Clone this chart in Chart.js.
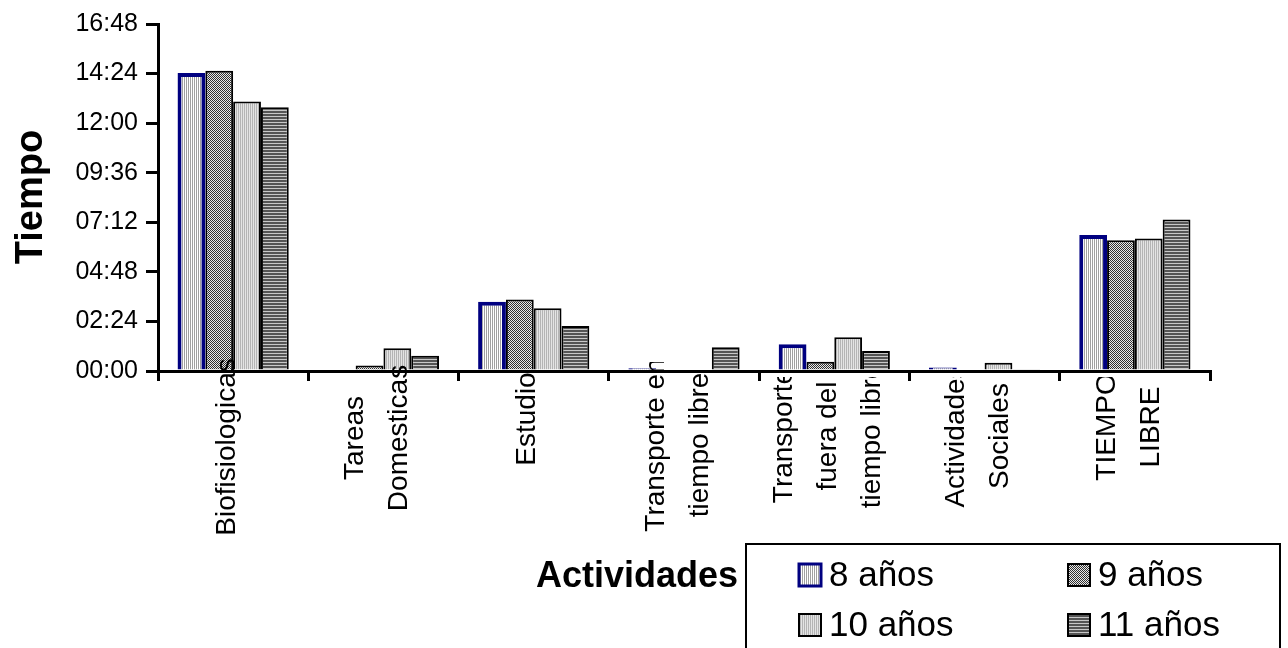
<!DOCTYPE html>
<html>
<head>
<meta charset="utf-8">
<title>Tiempo por actividades</title>
<script src="https://cdn.jsdelivr.net/npm/chart.js@4.4.1/dist/chart.umd.min.js"></script>
<style>
    html, body { margin: 0; padding: 0; background: #fff; }
    #wrap { width: 1288px; height: 648px; }
</style>
</head>
<body>
<div id="wrap"><canvas id="mainChart" width="1288" height="648"></canvas></div>
<script>
// categorias (una linea por elemento)
const categories = [
    ['Biofisiologicas'],
    ['Tareas', 'Domesticas'],
    ['Estudio'],
    ['Transporte en', 'tiempo libre'],
    ['Transporte', 'fuera del', 'tiempo libre'],
    ['Actividades', 'Sociales'],
    ['TIEMPO', 'LIBRE']
];
const seriesNames = ['8 años', '9 años', '10 años', '11 años'];

// valores en minutos
const edad8 = [866, 0, 201, 8, 78, 10, 395];
const edad9 = [872, 16, 208, 0, 27, 0, 380];
const edad10 = [783, 66, 182, 0, 98, 24, 385];
const edad11 = [766, 44, 131, 69, 58, 5, 440];

const yTicks = ['00:00', '02:24', '04:48', '07:12', '09:36', '12:00', '14:24', '16:48'];

const FONT = '"Liberation Sans", Arial, sans-serif';

// Excel centra cada etiqueta a su manera y recorta lo que sobresale
const labelMid = [447, 438, 419, 445, 436, 436, 427];
const labelClip = [357, 357, 357, 362, 377, 377, 377];

function makePattern(w, h, draw) {
    const c = document.createElement('canvas');
    c.width = w;
    c.height = h;
    const g = c.getContext('2d');
    draw(g);
    return g.createPattern(c, 'repeat');
}

// rellenos tipo Excel
const pat8 = makePattern(2, 1, g => {
    g.fillStyle = '#ffffff'; g.fillRect(0, 0, 2, 1);
    g.fillStyle = '#a0a0a0'; g.fillRect(0, 0, 1, 1);
});
const pat9 = makePattern(2, 2, g => {
    g.fillStyle = '#e8e8e8'; g.fillRect(0, 0, 2, 2);
    g.fillStyle = '#303030'; g.fillRect(0, 0, 1, 1); g.fillRect(1, 1, 1, 1);
});
const pat10 = makePattern(2, 1, g => {
    g.fillStyle = '#e4e4e4'; g.fillRect(0, 0, 2, 1);
    g.fillStyle = '#b4b4b4'; g.fillRect(0, 0, 1, 1);
});
const pat11 = makePattern(1, 3, g => {
    g.fillStyle = '#555555'; g.fillRect(0, 0, 1, 3);
    g.fillStyle = '#c8c8c8'; g.fillRect(0, 2, 1, 1);
});

const decorations = {
    id: 'decorations',
    afterDraw(chart) {
        const ctx = chart.ctx;
        const xScale = chart.scales.x;

        // etiquetas del eje X, giradas
        ctx.font = '28px ' + FONT;
        ctx.fillStyle = '#000';
        ctx.textAlign = 'center';
        ctx.textBaseline = 'middle';
        categories.forEach((lines, i) => {
            const cx = xScale.getPixelForValue(i) - 6;
            ctx.save();
            ctx.beginPath();
            ctx.rect(cx - 75, labelClip[i], 150, chart.height - labelClip[i]);
            ctx.clip();
            lines.forEach((line, j) => {
                const lx = cx + (j - (lines.length - 1) / 2) * 44;
                ctx.save();
                ctx.translate(lx, labelMid[i]);
                ctx.rotate(-Math.PI / 2);
                ctx.fillText(line, 0, 0);
                ctx.restore();
            });
            ctx.restore();
        });

        // titulos de ejes
        ctx.save();
        ctx.fillStyle = '#000';
        ctx.font = 'bold 36px ' + FONT;
        ctx.textAlign = 'right';
        ctx.textBaseline = 'alphabetic';
        ctx.fillText('Actividades', 738, 587);
        ctx.translate(42, 197);
        ctx.rotate(-Math.PI / 2);
        ctx.font = 'bold 38px ' + FONT;
        ctx.textAlign = 'center';
        ctx.fillText('Tiempo', 0, 0);
        ctx.restore();

        // leyenda (el borde inferior queda fuera de la imagen)
        ctx.save();
        ctx.strokeStyle = '#000';
        ctx.lineWidth = 2;
        ctx.beginPath();
        ctx.moveTo(746, 650);
        ctx.lineTo(746, 544);
        ctx.lineTo(1280, 544);
        ctx.lineTo(1280, 650);
        ctx.stroke();
        const cols = [799, 1068];
        const rows = [575, 625];
        ctx.font = '35px ' + FONT;
        ctx.textAlign = 'left';
        ctx.textBaseline = 'middle';
        chart.data.datasets.forEach((ds, i) => {
            const x = cols[i % 2];
            const y = rows[Math.floor(i / 2)];
            ctx.fillStyle = ds.backgroundColor;
            ctx.fillRect(x, y - 11, 22, 22);
            ctx.strokeStyle = ds.borderColor;
            ctx.lineWidth = i === 0 ? 3 : 2;
            ctx.strokeRect(x, y - 11, 22, 22);
            ctx.fillStyle = '#000';
            ctx.fillText(ds.label, x + 30, y + 1);
        });
        ctx.restore();
    }
};

const ctx = document.getElementById('mainChart').getContext('2d');
const chart = new Chart(ctx, {
    type: 'bar',
    data: {
        labels: categories,
        datasets: [
            { label: seriesNames[0], data: edad8, backgroundColor: pat8, borderColor: '#000080', borderWidth: 4 },
            { label: seriesNames[1], data: edad9, backgroundColor: pat9, borderColor: '#000000', borderWidth: 2 },
            { label: seriesNames[2], data: edad10, backgroundColor: pat10, borderColor: '#000000', borderWidth: 2 },
            { label: seriesNames[3], data: edad11, backgroundColor: pat11, borderColor: '#000000', borderWidth: 2 }
        ]
    },
    options: {
        responsive: false,
        animation: false,
        devicePixelRatio: 1,
        categoryPercentage: 0.74,
        barPercentage: 1.0,
        layout: {
            padding: { top: 24, right: 78, bottom: 0, left: 0 }
        },
        plugins: {
            legend: { display: false },
            tooltip: { enabled: false }
        },
        scales: {
            x: {
                grid: {
                    offset: true,
                    drawOnChartArea: false,
                    tickLength: 10,
                    color: '#000',
                    lineWidth: 3
                },
                border: { display: true, color: '#000', width: 3 },
                ticks: { display: false },
                afterFit: scale => { scale.height = 277; }
            },
            y: {
                min: 0,
                max: 1008,
                ticks: {
                    stepSize: 144,
                    callback: (value, index) => yTicks[index],
                    font: { size: 25, family: FONT },
                    color: '#000',
                    padding: 8
                },
                grid: {
                    drawOnChartArea: false,
                    tickLength: 12,
                    color: '#000',
                    lineWidth: 3
                },
                border: { display: true, color: '#000', width: 3 },
                afterFit: scale => { scale.width = 158; }
            }
        }
    },
    plugins: [decorations]
});
</script>
</body>
</html>
